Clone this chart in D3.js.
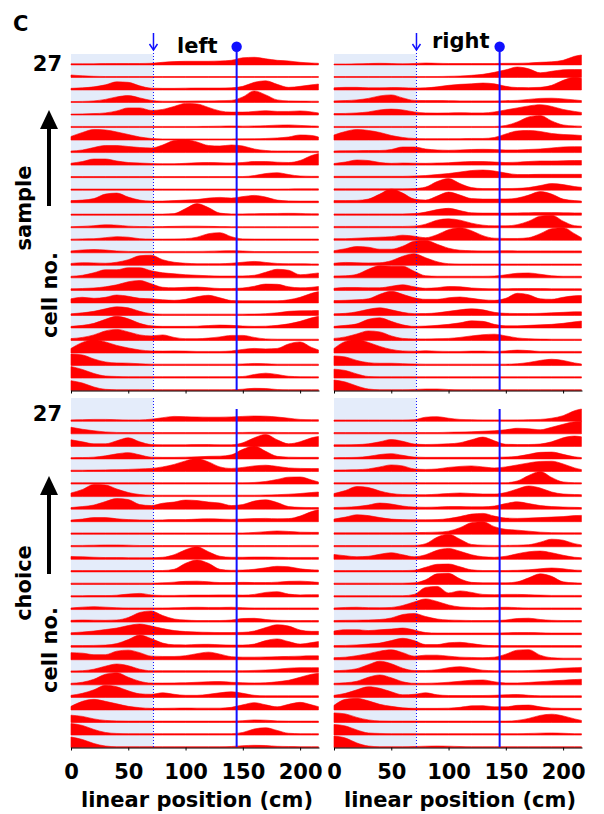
<!DOCTYPE html>
<html><head><meta charset="utf-8">
<script src="https://cdn.jsdelivr.net/npm/d3@7"></script>
<style>
body{margin:0;background:#fff}
text{font-family:"DejaVu Sans",Verdana,sans-serif;font-weight:bold;fill:#000}
</style>
</head><body>
<svg id="chart" width="604" height="814"></svg>
<script>
// ---------- data ----------
const positionsCm = [0,10,20,30,40,50,60,70,80,90,100,110,120,130,140,150,160,170,180,190,200,210,216];
const xTickValues = [0,50,100,150,200];
const xDomainMax = 216.5;
const cueCm = 72;        // end of shaded zone (dotted line)
const rewardCm = 144.6;  // solid blue line
const nCells = 27;
const panelTitles = ["left","right"];
const rowLabels = ["sample","choice"];

// rows listed from cell 27 (top) down to cell 1 (bottom); values = curve height
const sampleLeft = [
[0.5,0.5,0.5,0.7,0.8,0.8,0.8, 1,2,2.7,3,3,3,3.3, 4,6.5,7,5.5,4,3.3,2, 1.3,1],
[1.8,1,0.5,0.3,0.3,0.3,0.3, 0.3,0.3,0.3,0.3,0.3,0.3,0.3, 0.3,0.3,0.3,0.3,0.3,0.3,0.3, 0.3,0.3],
[1,1.5,2.5,4.5,7.5,7,3.5, 1.2,1,1,1.2,1.3,1.3,1.3, 1.5,3,7,8.5,5,2,3, 4.5,5.3],
[0.3,0.5,1,2.5,5,6.3,4, 1.5,0.7,0.7,0.8,1,1,1.2, 1.5,5,11,7,2,1,0.8, 0.7,0.7],
[0.3,0.5,0.8,1.5,3.5,6.5,6.5, 4,5,8,11,10.5,7,3.5, 2.3,2.3,3,3.7,3,3,3.5, 2.5,1.5],
[0.5,0.5,0.5,0.5,0.5,0.5,0.5, 0.5,0.5,0.5,0.5,0.5,0.6,0.8, 1,0.8,1,1.3,1.8,2,1.5, 1,0.8],
[3,7,10,9.5,7.5,5,2.5, 1,0.5,0.5,0.5,0.5,0.5,0.5, 0.5,0.6,0.7,1,1.5,2.5,4.5, 4,2.5],
[1,2,4.5,6.5,6.5,5.5,4.5, 4,7,11.5,12.5,10,6.5,6, 7,6,3,1.5,1,1,1, 0.8,0.8],
[1.3,3,5.5,5.5,3.5,2,1.5, 1,0.8,0.8,1.2,1.8,2,1.7, 1.5,2,3,3,2.3,2,4, 9,11],
[0.5,0.5,0.5,0.5,0.5,0.5,0.5, 0.5,0.5,0.5,0.5,0.5,0.5,0.5, 0.5,0.5,1.5,3.5,4.3,2.5,1, 0.7,0.7],
[0.5,0.5,0.5,0.5,0.5,0.5,0.5, 0.5,0.5,0.5,0.5,0.5,0.5,0.5, 0.5,0.5,0.5,0.5,0.5,0.6,0.7, 0.7,0.7],
[1.5,2,3.5,8,9,5,2, 1,1,1.5,2,2.5,4,4.7, 4,5.5,6.7,5,2,1.2,1, 1,1],
[0.5,0.5,0.5,0.5,0.5,0.5,0.5, 0.5,0.5,1,6,11,7,1.5, 0.7,0.7,0.8,1,1.2,1.3,1.2, 0.8,0.8],
[0.5,0.8,1.5,2.3,2,1,0.6, 0.5,0.6,0.8,1,1,0.8,0.6, 0.5,0.5,0.5,0.5,0.5,0.5,0.5, 0.5,0.5],
[0.5,0.8,1,2,3,2.5,1, 0.6,0.6,0.7,1,2.5,6,7, 3,0.8,0.6,0.6,0.6,0.6,0.6, 0.6,0.6],
[1.3,2.2,2.7,2.2,1.2,0.8,0.6, 0.6,0.7,0.8,0.8,0.8,1,1.3, 1.5,1.2,0.7,0.6,0.6,0.6,0.6, 0.6,0.6],
[1.3,2,1.8,1.5,2.5,5,9, 9.5,5,2.5,1.5,1,1,1, 1.5,2.5,3.3,2.3,1.3,1,1, 0.8,0.8],
[1,2,4.5,7.5,7.5,9.5,9.5, 6.5,4.5,3.5,2.5,2,1.5,1.2, 1.2,1.3,2,5,8,7,2.5, 3.5,4.3],
[1,1.3,1.8,3,5,8,9.3, 6,2.5,2,2.5,2.7,2,1.3, 1.3,1.8,3.5,5.7,5.5,3,2, 2.5,3.3],
[3.5,5,4,5,7.3,6,4, 3.5,2.5,2,3,5.5,7,4.5, 1.8,1.5,1.5,1.5,1.5,2.5,5, 9,10.7],
[1,2,3.5,6,8,7,3.5, 1.2,0.7,0.7,0.7,0.7,0.7,0.7, 0.7,0.7,0.8,1.2,2,3.5,4, 4.2,4.3],
[1,2,4,8,11,8.5,4, 1.5,1,1,1,1.2,1.8,2.3, 2,1.3,1,1.2,2,3.5,6, 9.5,11],
[1.3,2.5,5,9,10.5,8,5, 4,5,2.5,1.2,1.2,1.8,3, 4.5,4.5,2.5,1,0.7,0.7,0.7, 0.7,0.7],
[4,10,13,10.5,7,4.5,2.5, 1.5,1.3,1.5,1.3,1,1,1, 1.5,3,4,3.5,4,8.5,10.5, 5,2.5],
[11,10,6,3,2,1.8,1.2, 0.8,0.8,0.8,0.8,0.8,0.8,0.8, 0.8,1,1.5,1.2,0.8,0.8,0.8, 0.8,0.8],
[11,8,4,1.5,1,0.8,0.8, 0.8,0.8,0.8,0.8,0.8,0.8,0.8, 0.8,1,3,4.3,3,1.2,0.8, 0.7,0.7],
[9.3,7,3,0.7,0.3,0.3,0.3, 0.3,0.3,0.3,0.3,0.3,0.3,0.3, 0.3,0.8,1.7,1.5,0.5,0.3,0.3, 0.3,0.3]
];

const sampleRight = [
[0.3,0.3,0.5,0.8,1,0.8,0.5, 0.8,1.3,1,0.8,0.8,0.8,0.8, 0.8,1,1,1.3,2,2.5,4, 8,9.3],
[0.3,0.3,0.3,0.3,0.3,0.3,0.3, 0.3,0.3,0.3,0.5,0.8,1.5,2.5, 4.5,7,9.8,8,4,5.5,7, 7.3,7.3],
[1.5,2,2,1.5,1.5,1.8,1.7, 1.3,1.5,2.5,4,5,5.5,6.3, 5.5,3,1.8,1.7,2,4,9, 12,11],
[1,1.3,2,3.5,6,7,4, 1.5,1.3,1.3,1.2,1,1,1, 1,1.2,1.5,2.5,3.5,3.7,3, 2,1.3],
[0.8,1,1.5,2.5,4.5,5.3,4.5, 2.5,1.5,1.3,1.5,1.7,1.5,1.5, 2.5,4.5,6.5,8.5,9.7,8,5, 3,2],
[0.5,0.5,0.5,0.5,0.5,0.5,0.5, 0.5,0.5,0.5,0.5,0.5,0.5,0.5, 0.5,1.5,5,10,11.5,6,2, 1,0.8],
[4.5,8,10,9,7,4,2, 1,0.8,0.8,0.8,0.8,1,1, 2,5.5,8.5,9,8,6,5, 4.5,4],
[1,1.2,1.3,1.5,1.5,2.5,5, 5,3,2,1.7,2,2.5,2.7, 2.5,2,2,2.5,3,4,5, 5.3,5.3],
[1,2.5,4.5,4,2,1.2,1.5, 1.3,1.2,1.5,1.8,2.5,3,3, 2.5,2,2.3,3,3.5,3.5,3.7, 4,4],
[0.7,0.7,0.7,0.7,0.7,0.7,0.7, 1,1.5,2.5,3.5,5,6.5,7, 6,4,2.5,2.5,2.7,2.7,2.7, 2.7,2.7],
[0.7,0.7,0.7,0.7,0.7,0.7,0.7, 1,2.5,8,11,6,2,1, 1,1,1.2,2,4,6,5, 3,2.3],
[1.5,1.5,1.7,3,8,13,9, 3,2,6,10,7,3.5,3, 3,3,4,7,10.5,8,3, 1.5,1],
[0.7,0.7,0.7,0.7,0.7,0.7,0.7, 1,2.5,5,6.3,4,1.8,1.5, 1.5,1.5,1.7,1.8,2,2,1.8, 1.7,1.7],
[0.7,0.7,0.7,0.7,0.7,0.7,0.7, 1,3,7,8.3,7,4,2, 1.3,1.3,2.5,6,11,12,6, 1.5,1],
[1,1,1.5,2,2.5,3,4.5, 3.5,2,5,10,12,9,4, 1.5,1.2,1.2,2,6,11,12, 6,2],
[1.5,3.5,5.7,5,3,3,6, 11,12,8,4,2,1.5,1.3, 1.3,1.5,1.3,1.3,1.3,1.3,1.3, 1.3,1.3],
[1.5,2.3,2,1.8,2,4,8.5, 11,7,3,1,0.7,0.7,0.7, 0.7,0.7,0.7,0.7,0.7,0.7,0.7, 0.7,0.7],
[1.3,1.5,3,8,11.5,11,11, 6,1.5,1,1,1,1,1, 1.2,2.5,4,4.3,3,1.5,1, 1,1],
[1.5,2.3,2.3,2,2,3.5,5, 3,1.5,2,3.3,3,1.8,1.2, 1,1,1.2,1.3,1.2,1,1, 1,1],
[1.7,2,2.5,3.5,8,11,8, 4.5,3,3,4.5,5.3,4,2.5, 2,4,9,7.5,3.5,3,5, 6.5,6.7],
[1,1.5,3,5.5,7,5,2.5, 1.2,1.3,2,3.5,5,6,5, 2.5,1.5,1.3,1.3,1.5,2,2.5, 3,3],
[1,2,3.5,8,9.5,6,2.5, 1,1.3,2,3,4.5,6.5,6, 3,1.5,1.5,2,2.5,3,4, 5.5,6.3],
[1.5,3,6,9,8,4,1.5, 1,1,1.2,1.5,2.5,4,5.2, 5.7,4,2,1.2,0.8,0.7,0.7, 0.7,0.7],
[4,11,13,10,6,3,1.5, 1.2,1.7,1.2,1,1,1.3,1.3, 1,1.5,2.3,1.8,1,1,1, 1,1],
[9,8,4.5,2.3,1.7,1.7,1.3, 1,0.8,0.8,0.8,0.8,0.8,0.8, 0.8,0.8,1.2,2.5,4.5,5.7,4.5, 2,1],
[8.3,7,3.5,1,0.7,0.7,0.7, 0.7,0.7,0.7,0.7,0.7,0.7,0.7, 0.7,0.7,0.7,0.7,0.7,0.7,0.7, 0.7,0.7],
[10,8,4,1,0.3,0.3,0.3, 0.5,1,1,0.5,0.3,0.3,0.3, 0.3,0.3,0.3,0.3,0.3,0.3,0.3, 0.3,0.3]
];

const choiceLeft = [
[0.8,1,1.3,1.3,1,0.8,0.8, 1.5,3,4.3,4,3.7,3.5,3.5, 3.8,4.3,4.7,4.5,3.7,2.5,1.3, 1,1],
[6,4,2.5,1.3,0.8,0.7,0.7, 0.7,0.7,0.7,0.7,0.7,0.7,0.7, 0.7,0.8,1,1,0.8,0.7,0.7, 0.7,0.7],
[6,4,2,2,5,8,4, 1.3,1,1,1,1.2,1.3,1, 1,3,8,11.3,6,2,4, 8,9.3],
[0.7,0.8,1.2,2.5,4.5,5.7,3.5, 1.2,1,1,1.2,1.5,2,2.2, 3.5,9,12.3,7,2,1.2,1, 1,1],
[0.7,0.7,0.8,1,1.2,1.5,2, 2.5,4,6.5,10,12.3,9,4, 2.5,3.5,5,5.7,4.5,3,2.5, 2.3,2.3],
[0.7,0.7,0.7,0.7,0.7,0.7,0.7, 0.7,0.7,0.7,0.7,0.7,0.7,0.7, 0.7,0.7,1,2,4,6.3,6.5, 3.5,1.5],
[3,6.5,11.5,11,7,3.5,1.5, 0.8,0.8,0.8,0.8,0.8,0.8,0.8, 0.8,0.8,0.8,1,1.3,1.8,2.5, 3.5,4],
[1,2,3.5,7,10,9,4, 3,5.3,6.5,8.5,8,6.5,5.5, 3,4,7.5,8.7,6,2,1.2, 1,1],
[1,2,3.5,3.5,2.3,1.5,1.2, 1,1.2,1.5,1.5,2,2.3,2, 1.7,2,2.5,2.7,2.3,2.5,5, 9.5,11.3],
[0.7,0.7,0.7,0.7,0.7,0.7,0.7, 0.7,0.7,0.7,0.7,0.7,0.7,0.7, 0.7,0.7,1.2,2,2.7,2.2,1.5, 1.3,1.3],
[0.7,0.8,1,1.2,1.2,1,0.7, 0.7,0.7,0.7,0.7,0.7,0.7,0.7, 0.7,0.7,0.7,0.7,0.7,0.7,0.8, 0.8,0.8],
[2.3,2,1.5,1.2,1.2,1,1, 1,1.5,4,9,12,7,2.5, 1.5,1.5,1.7,1.7,1.5,1.3,1.3, 1.3,1.3],
[0.7,0.7,0.7,0.7,0.7,0.7,0.7, 0.7,0.8,2,8,11.3,8,2, 1,1.2,2,3.5,5,4.5,2.5, 1.5,1.3],
[0.7,0.7,0.7,0.7,0.7,0.7,0.7, 0.7,1,1.7,2.5,2.7,2,1.3, 1.3,1.5,1.3,1.3,1.7,2.5,2.7, 2,1.5],
[0.7,0.7,0.8,0.8,1.2,2.3,3, 1.5,1,1,1.2,1.3,1.3,1.5, 1.5,1.3,2,4,4.7,2.3,1.5, 1.7,1.7],
[1,1.8,2.3,1.8,1.2,1,1, 1,1,1.2,1.5,1.7,1.5,1.5, 1.7,1.3,1,1,1,1,1, 1,1],
[1.2,1.5,1.3,1.2,1.5,4,9, 10.5,6,2.5,1.5,1,1,1, 1.5,3,3.2,2,1.2,1,1, 1,1],
[1.3,2,3,4.5,6,8.5,10, 8,5.5,3.5,2.5,2,1.7,1.5, 1.5,1.7,3,6.5,9.3,8,4, 2.7,2.7],
[1,1,1.2,1.5,3,7,11.5, 8,3.5,1.8,1.7,2.2,2.3,1.8, 1.5,1.5,2.5,6,7.7,5,2.5, 4,5],
[6.5,6,4.5,4.5,8,9,6.5, 3,2.7,2.7,3.5,5.5,7,5, 2.5,2,2,2.2,2.5,2.7,3, 3.3,3.3],
[0.8,1,2.5,5.5,7.7,6,2.5, 1,1,1,1,1,1,1, 1,1,1.3,1.7,2.5,3.5,4, 4,4],
[1,2,5,10,11.5,7,3, 1.2,1.2,1.3,1.5,2,2.5,2.7, 2,1.5,1.3,1.5,2.5,4,7, 10,11],
[1.5,3.5,7,11.5,10,6,3, 2.5,4,2.5,1.5,1.5,2.5,4, 5,3.5,1.5,1,1,1,1, 1,1],
[3,8,10,8,5.5,3,1.7, 1,1,1.2,1.3,1.2,1.2,1.2, 2,4.5,6.7,4.5,2.5,5,7, 4.5,2.7],
[6.7,5.5,3,1.5,1,0.8,0.8, 0.8,0.8,0.8,0.8,0.8,0.8,0.8, 0.8,1.2,2,1.7,1,0.8,0.8, 0.8,0.8],
[11,9,5,2,1,0.8,0.8, 0.8,0.8,0.8,0.8,0.8,0.8,0.8, 0.8,2,5.5,6.7,4,1.2,0.8, 0.8,0.8],
[10,7.5,3.5,1,0.3,0.3,0.3, 0.3,0.3,0.3,0.3,0.3,0.3,0.3, 0.5,1.3,1.7,1.5,0.7,0.5,0.3, 0.3,0.3]
];

const choiceRight = [
[0.7,0.7,0.7,0.7,0.7,0.7,0.7, 1,3.5,4,2.5,1.3,1,0.8, 0.8,0.8,0.8,1,1.3,2.5,5, 10,11.7],
[0.7,0.7,0.7,0.7,0.7,0.7,0.7, 0.7,0.7,0.7,1,1.2,1.5,2, 2.5,3.5,5,4.5,3.5,6,9, 11.5,12],
[1,1,1.2,2,4,6.3,4.5, 1.8,1.3,1.5,2,3,6,8.7, 5,1.5,1.3,1.3,1.8,4,8, 9.7,9],
[0.7,0.8,1,2,3.8,4.7,3, 1.3,1,1,1,1,1,1, 1,1.3,2,4,6,6.3,4, 1.5,0.8],
[0.8,1,1.2,2,4,6,5, 2,1.5,2,3.5,4.5,5,4, 3,4,6,8,9.5,9.7,7, 3,1.3],
[0.7,0.7,0.7,0.7,0.7,0.7,0.7, 0.7,0.7,0.7,0.7,0.7,0.7,0.7, 0.7,0.8,2.5,8,12,6,1.5, 0.8,0.7],
[2.5,5.5,9.5,8.5,5,2.5,1.5, 1.3,1.3,1.8,2.5,3,2.5,2, 2,3.5,7,10,8,4,2, 1.5,1.3],
[1,1.3,2,3.5,5.5,4.5,2.5, 1.5,1.3,1.5,2,2,1.7,1.7, 2.5,5,6.7,5,3,2,1.5, 1.2,1],
[2,4,6.3,5.5,3.5,2,1.5, 1.3,1.3,1.5,2.5,4.5,7,7.7, 5,3,2.7,3,3.5,4,4.5, 5.5,5.7],
[0.8,0.8,0.8,0.8,0.8,0.8,0.8, 1,1.2,1.5,2.5,6,11,12, 7,4.3,3.5,2.5,1.5,1,0.8, 0.8,0.8],
[0.7,0.7,0.7,0.7,0.7,0.7,0.7, 0.8,2.5,9,12,7,1.8,1, 0.8,0.8,1,1.5,4,7,6, 2.5,1.3],
[4.3,3,2,2.5,4.5,6,4, 2,4,8.5,10.3,7.5,4,2, 1.5,2.5,5,7,7.7,6,3.5, 1.5,1],
[0.7,0.7,0.7,0.7,0.7,0.7,0.7, 1,4,7,7.3,4.5,1.5,0.8, 0.8,0.8,1,1.5,2.5,3.3,2.5, 1.2,1],
[0.7,0.7,0.7,0.7,0.7,0.7,0.7, 1,4,10,10.5,5,1.5,1, 1,1,2,6,10,7.5,2, 1,0.8],
[0.7,0.7,0.7,0.7,0.7,0.7,0.7, 2,9,10,3.5,5.5,4,2, 1.7,2,2,1.7,1.3,1,1, 1,1],
[1,1.5,1.7,1.3,1.2,1.5,3.5, 7,10,7.5,4,2,1.5,1.3, 1.5,1.7,1.3,1,1,1,1, 1,1],
[1,1.2,1.3,1.5,2,3.5,7, 8,5,2.5,1.5,1.2,1,1, 1,1.5,3,3.3,2,1.2,1, 1,1],
[3,4.3,4.3,3.5,4.3,5,6, 4,1.5,1,1,1,1,1, 1,1.2,1.5,1.5,1.2,1,1, 1,1],
[1,1.2,1.7,2.5,3.5,6,8.3, 6,2,2,3.8,4.3,3,1.5, 1,1,1,1,1,1,1, 1,1],
[1.5,2,3.5,5.5,8,9.3,6.5, 3,4,4,3,2,1.7,1.5, 2,5,9,9.5,4,1.5,1, 1,1],
[1,1.5,3,7,10.5,8,3.5, 1.2,1.2,2,4,5,3.5,1.5, 1,1,1,1.2,1.7,2.5,3.5, 4,4.3],
[1,1.5,3,7,9.3,6.5,2.5, 1,1,1.3,2,3,4,4.3, 2.5,1.3,1.3,1.8,2.5,3.3,4, 4.7,5],
[1.5,3.5,7,10,8.5,5,2, 2.5,4,2,1.3,1.2,1.2,1.3, 1.5,2,2.3,1.5,1,1,1, 1,1],
[4,10,11,8.5,5,3,1.5, 1,1,1,1.2,2,3.5,3.7, 2.5,2.5,4,4.3,2.5,1.2,1, 1,1],
[9,8,4.5,2,1,0.8,0.8, 0.8,0.8,0.8,0.8,0.8,0.8,0.8, 0.8,0.8,1.5,3.5,6.5,7.7,6, 3,1.5],
[10,8.5,4.5,1.5,1,0.8,0.8, 0.8,0.8,0.8,0.8,0.8,0.8,0.8, 0.8,0.8,0.8,1,1.3,1.5,1.2, 0.8,0.8],
[11,9,4,1,0.3,0.3,0.3, 0.5,0.8,1,0.8,0.5,0.3,0.3, 0.3,0.3,0.3,0.3,0.3,0.3,0.3, 0.3,0.3]
];

// ---------- drawing ----------
const svg = d3.select("#chart");
const RED = "#ff0000", BLUE = "#1010ff", SHADE = "#e4ecfa";
const FS = 21;

const blocks = [
  {yTop:64.3, yBot:390, shadeTop:54, solidTop:46.7, dottedTop:50, marker:true, labels:false},
  {yTop:420.7, yBot:747, shadeTop:398, solidTop:409, dottedTop:398, marker:false, labels:true}
];
const cols = [{x0:71, x1:319}, {x0:334, x1:582}];
const datasets = [[sampleLeft, sampleRight],[choiceLeft, choiceRight]];
const hScale = d3.scaleLinear().domain([0,10]).range([0,10]);

blocks.forEach((b, bi) => {
  cols.forEach((c, ci) => {
    const data = datasets[bi][ci];
    const x = d3.scaleLinear().domain([0, xDomainMax]).range([c.x0, c.x1]);
    const y = d3.scaleLinear().domain([1, nCells]).range([b.yBot, b.yTop]);
    const g = svg.append("g");

    g.append("rect").attr("x", x(0)).attr("y", b.shadeTop)
      .attr("width", x(cueCm) - x(0)).attr("height", b.yBot + 0.5 - b.shadeTop)
      .attr("fill", SHADE);

    data.forEach((vals, i) => {
      const cell = nCells - i;
      const base = y(cell);
      const pts = positionsCm.map((p, k) => [p, vals[k]]);
      const area = d3.area()
        .x(d => x(d[0]))
        .y0(base + 0.6)
        .y1(d => base - hScale(d[1]))
        .curve(d3.curveMonotoneX);
      g.append("path").attr("d", area(pts))
        .attr("fill", RED).attr("stroke", RED).attr("stroke-width", 0.6)
        .attr("stroke-linejoin", "round");
    });

    g.append("line").attr("x1", x(cueCm)).attr("x2", x(cueCm))
      .attr("y1", b.dottedTop).attr("y2", b.yBot)
      .attr("stroke", BLUE).attr("stroke-width", 1).attr("stroke-dasharray", "1,2");

    g.append("line").attr("x1", x(rewardCm)).attr("x2", x(rewardCm))
      .attr("y1", b.solidTop).attr("y2", b.yBot)
      .attr("stroke", BLUE).attr("stroke-width", 2);

    if (b.marker) {
      g.append("circle").attr("cx", x(rewardCm)).attr("cy", b.solidTop).attr("r", 5.2).attr("fill", BLUE);
      const ax = x(cueCm);
      g.append("line").attr("x1", ax).attr("x2", ax).attr("y1", 33).attr("y2", 50)
        .attr("stroke", BLUE).attr("stroke-width", 1.5);
      g.append("path").attr("d", `M${ax-4},${44}L${ax},${50}L${ax+4},${44}`)
        .attr("fill", "none").attr("stroke", BLUE).attr("stroke-width", 1.5);
      g.append("text").attr("x", ci === 0 ? 177 : 432).attr("y", ci === 0 ? 53 : 48)
        .attr("font-size", FS).text(panelTitles[ci]);
    }

    const axis = d3.axisBottom(x).tickValues(xTickValues).tickSize(3).tickSizeOuter(0).tickPadding(14);
    if (!b.labels) axis.tickFormat("");
    const ag = g.append("g").attr("transform", `translate(0,${b.yBot + 0.5})`).call(axis);
    ag.select(".domain").attr("stroke", "#000").attr("stroke-width", 1);
    ag.selectAll(".tick line").attr("stroke", "#000");
    ag.selectAll("text").attr("font-size", FS).attr("font-family", "DejaVu Sans").attr("font-weight", "bold").attr("fill", "#000");

    if (b.labels) {
      g.append("text").attr("x", (c.x0 + c.x1) / 2 + 2).attr("y", 807)
        .attr("text-anchor", "middle").attr("font-size", FS).text("linear position (cm)");
    }
  });

  const topLabelY = bi === 0 ? 71 : 421;
  svg.append("text").attr("x", 62).attr("y", topLabelY).attr("text-anchor", "end")
    .attr("font-size", FS).text(String(nCells));

  const arrowTop = bi === 0 ? 110 : 476;
  const arrowEnd = bi === 0 ? 206 : 574;
  svg.append("path").attr("d", `M49,${arrowTop}L40,${arrowTop+19}L58,${arrowTop+19}Z`).attr("fill", "#000");
  svg.append("line").attr("x1", 49).attr("x2", 49).attr("y1", arrowTop + 17).attr("y2", arrowEnd)
    .attr("stroke", "#000").attr("stroke-width", 4);

  const w1Y = bi === 0 ? 208 : 583;
  const w2Y = bi === 0 ? 295 : 650;
  svg.append("text").attr("transform", `translate(31,${w1Y}) rotate(-90)`)
    .attr("text-anchor", "middle").attr("font-size", FS).text(rowLabels[bi]);
  svg.append("text").attr("transform", `translate(57,${w2Y}) rotate(-90)`)
    .attr("text-anchor", "middle").attr("font-size", FS).text("cell no.");
});

svg.append("text").attr("x", 13).attr("y", 31).attr("font-size", FS).text("C");
</script>
</body></html>
